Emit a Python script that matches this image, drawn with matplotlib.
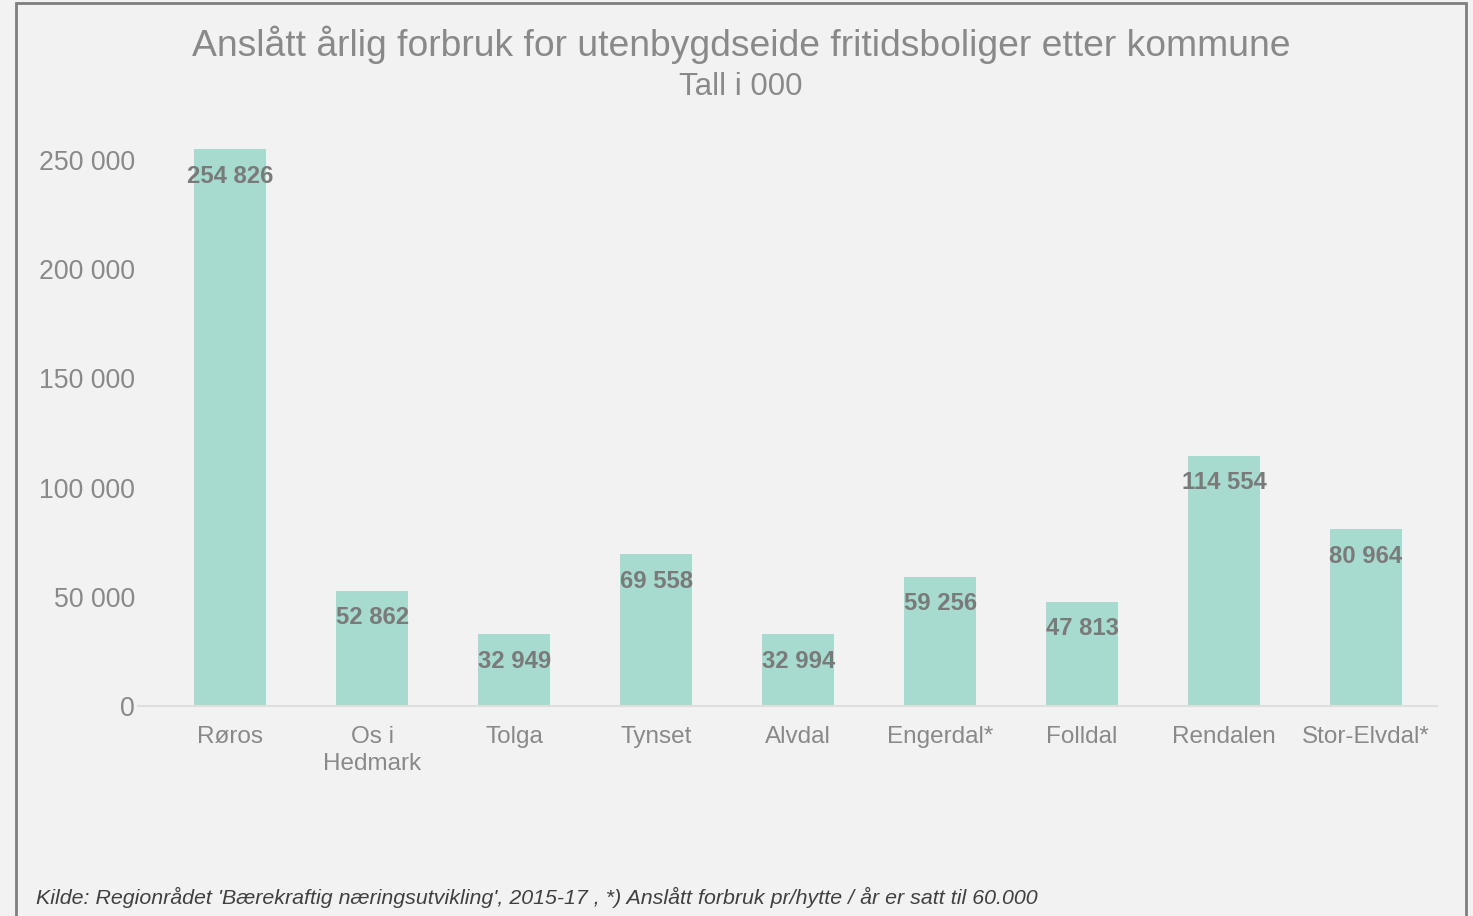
import numpy as np
import matplotlib.pyplot as plt
from matplotlib.patches import Rectangle

# Data
kommuner = ["Røros", "Os i\nHedmark", "Tolga", "Tynset", "Alvdal",
            "Engerdal*", "Folldal", "Rendalen", "Stor-Elvdal*"]
forbruk = [254826, 52862, 32949, 69558, 32994, 59256, 47813, 114554, 80964]
y_ticks = [0, 50000, 100000, 150000, 200000, 250000]

BG = '#f2f2f2'
BAR = '#a8dbd0'
TXT = '#898989'

plt.rcParams['font.family'] = ['Liberation Sans', 'DejaVu Sans']

fig = plt.figure(figsize=(14.73, 9.16), dpi=100, facecolor=BG)
ax = fig.add_axes([138 / 1473, 1 - 706 / 916, (1437 - 138) / 1473, (706 - 138) / 916])
ax.set_facecolor(BG)

x = np.arange(len(kommuner))
bars = ax.bar(x, forbruk, width=0.51, color=BAR, edgecolor='none')

ax.set_xlim(-0.65, 8.5)
ax.set_ylim(0, 260000)

# etiketter inne i toppen av stolpene
for xi, v in zip(x, forbruk):
    lbl = f"{v:,}".replace(",", " ")
    ax.annotate(lbl, (xi, v), xytext=(0, -19.5), textcoords='offset points',
                ha='center', va='center', fontsize=17.2, fontweight='bold',
                color='#7a7a7a')

ax.set_yticks(y_ticks)
ax.set_yticklabels([f"{t:,}".replace(",", " ") for t in y_ticks])
ax.set_xticks(x)
ax.set_xticklabels(kommuner, linespacing=1.3)
ax.tick_params(axis='y', length=0, pad=2, labelsize=19.2, labelcolor=TXT)
ax.tick_params(axis='x', length=0, pad=14.5, labelsize=17.5, labelcolor=TXT)

for s in ['top', 'right', 'left']:
    ax.spines[s].set_visible(False)
ax.spines['bottom'].set_color('#dedede')
ax.spines['bottom'].set_linewidth(1.5)

fig.text(741 / 1473, 1 - 45 / 916,
         "Anslått årlig forbruk for utenbygdseide fritidsboliger etter kommune",
         ha='center', va='center', fontsize=26.8, color=TXT)
fig.text(741 / 1473, 1 - 87 / 916, "Tall i 000",
         ha='center', va='center', fontsize=22.5, color=TXT)
fig.text(36 / 1473, 1 - 897 / 916,
         "Kilde: Regionrådet 'Bærekraftig næringsutvikling', 2015-17 , "
         "*) Anslått forbruk pr/hytte / år er satt til 60.000",
         ha='left', va='center', fontsize=15.4, style='italic', color='#404040')

# ramme rundt figuren
fig.patches.append(Rectangle((16 / 1473, -0.02), (1466 - 16) / 1473, 1.02 - 3 / 916,
                             transform=fig.transFigure, fill=False,
                             edgecolor='#7f7f7f', linewidth=2))

fig.savefig('out.png', dpi=100, facecolor=BG)
